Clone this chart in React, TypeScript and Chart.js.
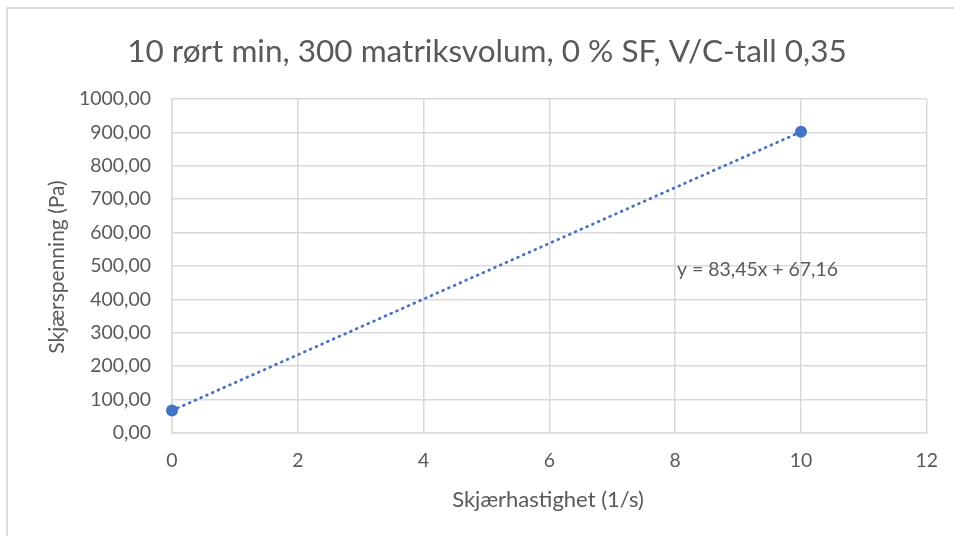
import React, { useEffect, useRef } from "react";
import { Chart, registerables } from "chart.js";

Chart.register(...registerables);

const chartTitle = "10 rørt min, 300 matriksvolum, 0 % SF, V/C-tall 0,35";
const xAxisTitle = "Skjærhastighet (1/s)";
const yAxisTitle = "Skjærspenning (Pa)";
const equationText = "y = 83,45x + 67,16";
const equationPos = { x: 8.03, y: 488 };

const shearRate = [0, 10];
const shearStress = [67.16, 901.66];
const trendX = [0, 10];
const trendY = [67.16, 901.66];

const xTickLabels = ["0", "2", "4", "6", "8", "10", "12"];
const yTickLabels = ["0,00", "100,00", "200,00", "300,00", "400,00", "500,00", "600,00", "700,00", "800,00", "900,00", "1000,00"];

const FONT = "Lato, 'Open Sans', sans-serif";
const TEXT = "#595959";
const BLUE = "#4472C4";
const GRID = "#d9d9d9";

function fitSize(text: string, width: number, maxSize: number): number {
  const c = document.createElement("canvas").getContext("2d")!;
  c.font = `100px ${FONT}`;
  const w = c.measureText(text).width;
  return Math.min(maxSize, (100 * width) / w);
}

const decorPlugin = {
  id: "decor",
  beforeDraw(chart: any) {
    const ctx = chart.ctx;
    ctx.save();
    ctx.fillStyle = "#ffffff";
    ctx.fillRect(0, 0, chart.width, chart.height);
    ctx.strokeStyle = "#dcdcdc";
    ctx.lineWidth = 2;
    ctx.beginPath();
    ctx.moveTo(7, chart.height);
    ctx.lineTo(7, 8);
    ctx.lineTo(chart.width, 8);
    ctx.stroke();
    ctx.restore();
  },
  afterDraw(chart: any) {
    const ctx = chart.ctx;
    const xs = chart.scales.x;
    const ys = chart.scales.y;
    ctx.save();
    ctx.fillStyle = TEXT;
    ctx.textBaseline = "middle";
    ctx.textAlign = "center";
    ctx.font = `${fitSize(chartTitle, 720, 34)}px ${FONT}`;
    ctx.fillText(chartTitle, 487, 52);
    ctx.font = `${fitSize(xAxisTitle, 200, 22)}px ${FONT}`;
    ctx.fillText(xAxisTitle, 548, 500);
    ctx.save();
    ctx.translate(57, 267);
    ctx.rotate(-Math.PI / 2);
    ctx.font = `${fitSize(yAxisTitle, 199, 21)}px ${FONT}`;
    ctx.fillText(yAxisTitle, 0, 0);
    ctx.restore();
    ctx.textAlign = "left";
    ctx.font = `${fitSize(equationText, 161, 21)}px ${FONT}`;
    ctx.fillText(equationText, xs.getPixelForValue(equationPos.x), ys.getPixelForValue(equationPos.y));
    ctx.restore();
  },
};

export default function App() {
  const ref = useRef<HTMLCanvasElement>(null);
  useEffect(() => {
    document.body.style.margin = "0";
    const canvas = ref.current!;
    const tickSize = fitSize("1000,00", 72, 20);
    const chart = new Chart(canvas, {
      type: "scatter",
      data: {
        datasets: [
          {
            label: "Trend",
            data: trendX.map((x, i) => ({ x, y: trendY[i] })),
            showLine: true,
            borderColor: BLUE,
            borderWidth: 2.8,
            borderDash: [0.8, 5.5],
            borderCapStyle: "round",
            pointRadius: 0,
            fill: false,
            clip: false,
          } as any,
          {
            label: "Data",
            data: shearRate.map((x, i) => ({ x, y: shearStress[i] })),
            showLine: false,
            backgroundColor: BLUE,
            borderColor: BLUE,
            pointRadius: 6,
            pointBorderWidth: 0,
            clip: false,
          } as any,
        ],
      },
      options: {
        responsive: false,
        animation: false,
        layout: { padding: { left: 0, top: 99, right: 27, bottom: 0 } },
        plugins: {
          legend: { display: false },
          title: { display: false },
          tooltip: { enabled: false },
        },
        scales: {
          x: {
            type: "linear",
            min: 0,
            max: 12,
            afterFit: (s: any) => { s.height = 103; },
            ticks: {
              stepSize: 2,
              padding: 16,
              color: TEXT,
              font: { family: FONT, size: tickSize },
              callback: (_v: any, i: number) => xTickLabels[i],
              maxRotation: 0,
            },
            grid: { color: GRID, lineWidth: 1.5, drawTicks: false },
            border: { color: GRID, width: 1.5 },
          },
          y: {
            type: "linear",
            min: 0,
            max: 1000,
            afterFit: (s: any) => { s.width = 172; },
            ticks: {
              stepSize: 100,
              padding: 21,
              color: TEXT,
              font: { family: FONT, size: tickSize },
              callback: (_v: any, i: number) => yTickLabels[i],
            },
            grid: { color: GRID, lineWidth: 1.5, drawTicks: false },
            border: { color: GRID, width: 1.5 },
          },
        },
      },
      plugins: [decorPlugin],
    } as any);
    return () => chart.destroy();
  }, []);
  return <canvas ref={ref} width={954} height={536} style={{ display: "block" }} />;
}
